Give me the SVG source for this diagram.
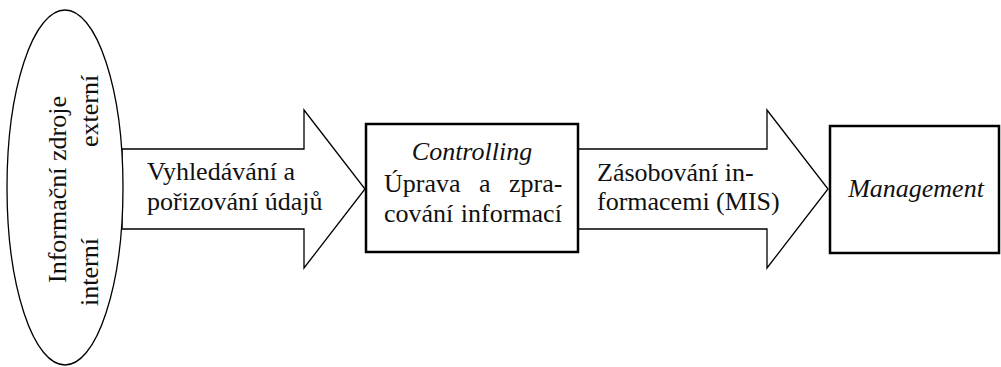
<svg xmlns="http://www.w3.org/2000/svg" width="1001" height="367" viewBox="0 0 1001 367">
  <style>
    .thin { fill: #fff; stroke: #000; stroke-width: 1.3; }
    .box { fill: #fff; stroke: #000; stroke-width: 2.5; }
  </style>
  <rect width="1001" height="367" fill="#fff"/>

  <!-- block arrows -->
  <g id="connectors">
    <path class="thin" d="M122,149 H304 V110 L365,189 L304,268 V229 H122 Z"/>
    <path class="thin" d="M578,149 H767 V110 L828,189 L767,268 V229 H578 Z"/>
  </g>

  <!-- all labels share one serif face -->
  <g font-family="Liberation Serif, Times New Roman, serif" font-size="26" fill="#111">

  <!-- information sources -->
  <g id="sources">
    <ellipse cx="65" cy="187.5" rx="58" ry="177.5" fill="#fff" stroke="#000" stroke-width="1.3"/>
    <text transform="translate(66,283) rotate(-90)">Informační zdroje</text>
    <text transform="translate(98,147) rotate(-90)">externí</text>
    <text transform="translate(98,306) rotate(-90)">interní</text>
  </g>

  <g id="label-search">
    <text x="147" y="180">Vyhledávání a</text>
    <text x="147" y="210">pořizování údajů</text>
  </g>

  <g id="controlling">
    <rect class="box" x="366" y="124" width="212" height="128"/>
    <text font-style="italic" x="472" y="160" text-anchor="middle">Controlling</text>
    <text x="384" y="192" word-spacing="12">Úprava a zpra-</text>
    <text x="384" y="222" word-spacing="1">cování informací</text>
  </g>

  <g id="label-supply">
    <text x="597" y="181">Zásobování in-</text>
    <text x="597" y="210">formacemi (MIS)</text>
  </g>

  <g id="management">
    <rect class="box" x="830" y="126" width="169" height="127"/>
    <text font-style="italic" x="916" y="197" text-anchor="middle">Management</text>
  </g>

  </g>
</svg>
